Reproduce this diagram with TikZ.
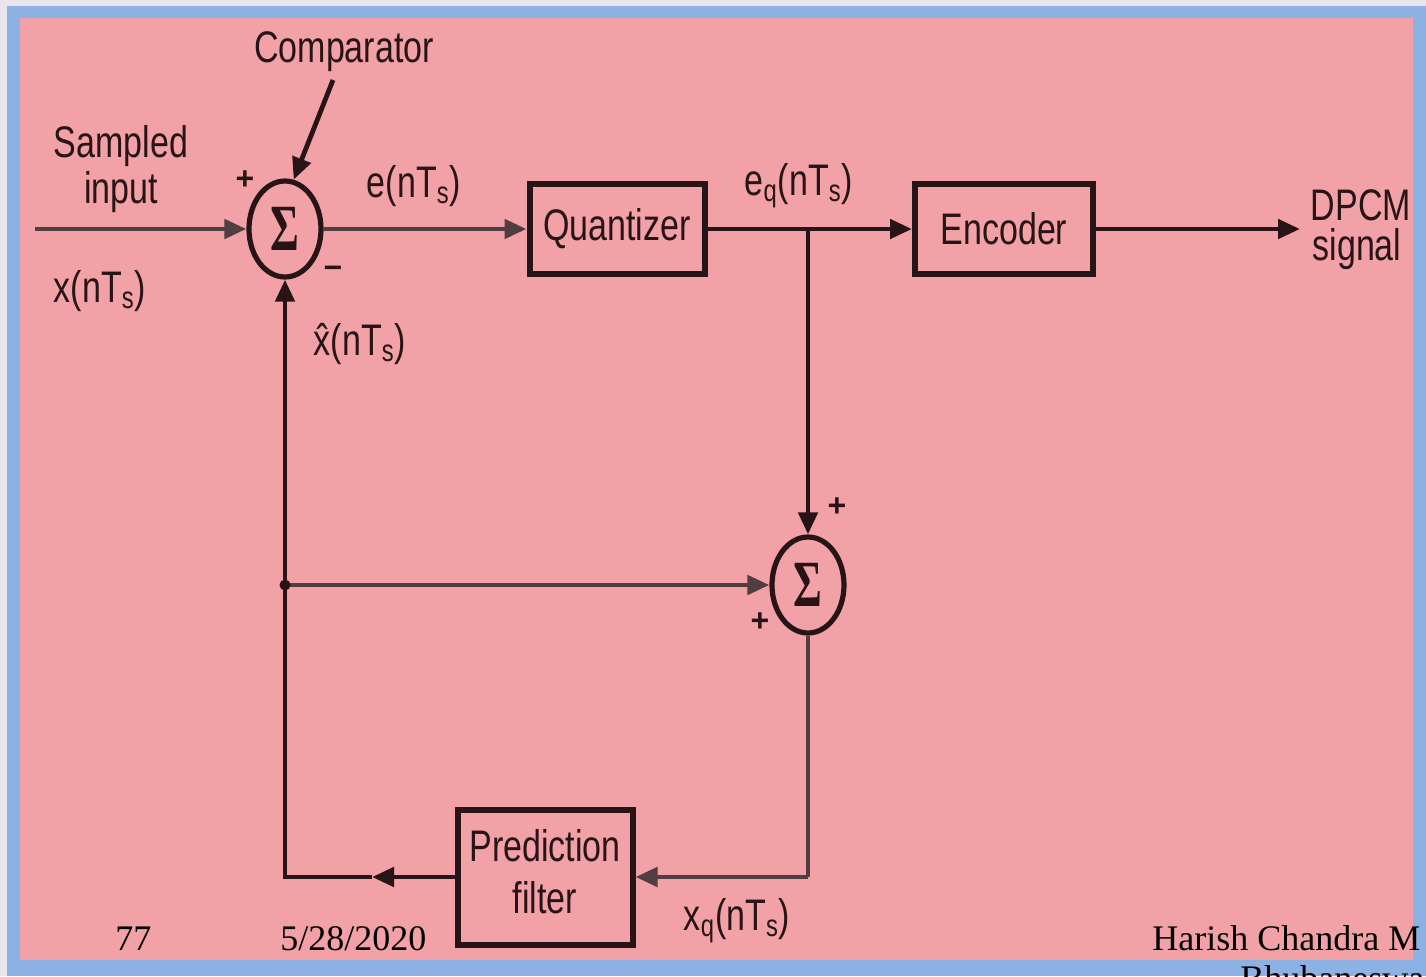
\documentclass[tikz,border=0pt]{standalone}
\usepackage{fontspec}
\setmainfont{Liberation Sans}
\newfontfamily\footfont{Liberation Serif}
\usetikzlibrary{shapes.geometric,arrows.meta}
\definecolor{bggray}{RGB}{232,230,235}
\definecolor{bordblue}{RGB}{140,178,228}
\definecolor{slidepink}{RGB}{242,161,167}
\definecolor{ink}{RGB}{40,20,22}
\definecolor{inkgray}{RGB}{80,62,65}
\newcommand{\vstretch}[2][1.3]{\scalebox{1}[#1]{#2}}
\newcommand{\sumsign}{\vstretch[1.5]{\footfont\bfseries\fontsize{22}{22}\selectfont Σ}}
\begin{document}
\begin{tikzpicture}[x=0.5pt,y=-0.5pt,
  conn/.style={draw=ink,line width=2.4pt},
  arr/.style={conn,-{Triangle[length=11pt,width=9.5pt]}},
  blockbox/.style={draw=ink,line width=3pt,minimum width=87.5pt,minimum height=45pt,inner sep=0pt,font=\fontsize{17}{20}\selectfont,text=ink},
  sumnode/.style={ellipse,draw=ink,line width=2.6pt,minimum width=36pt,minimum height=48pt,inner sep=0pt,text=ink},
  lbl/.style={font=\fontsize{17}{20}\selectfont,text=ink,inner sep=0pt,anchor=base},
  sgn/.style={font=\fontsize{16}{18}\selectfont\bfseries,text=ink,inner sep=0pt},
  foot/.style={font=\footfont\fontsize{18}{21}\selectfont,text=black,inner sep=0pt,anchor=base west},
]
\path[clip] (0,0) rectangle (1426,976);
\fill[bggray] (0,0) rectangle (1426,976);
\fill[bordblue] (7,6) rectangle (1426,976);
\fill[slidepink] (20,18) rectangle (1413,960);

% blocks
\node[sumnode] (s1) at (285,229) {\sumsign};
\node[blockbox] (q) at (617,229) {\vstretch{Quantizer}};
\node[blockbox,minimum width=89pt] (enc) at (1004,229) {\vstretch{Encoder}};
\node[sumnode] (s2) at (808,585) {\sumsign};
\node[blockbox,minimum height=67.5pt] (pf) at (545,877) {\vstretch{\begin{tabular}{@{}c@{}}Prediction\\filter\end{tabular}}};

% coordinates
\coordinate (in) at (35,229);
\coordinate (jq) at (s2 |- q.east);
\coordinate (out) at (1300,229);
\coordinate (jl) at (s1 |- s2.west);
\coordinate (br) at (s2 |- pf.east);
\coordinate (mid) at (372,0 |- pf.west);
\coordinate (bl) at (s1 |- pf.west);
\coordinate (cs) at (333,80);

% connectors
\draw[arr,draw=inkgray] (in) -- (s1.west);
\draw[arr,draw=inkgray] (s1.east) -- (q.west);
\draw[arr] (q.east) -- (enc.west);
\draw[arr] (jq) -- (s2.north);
\draw[arr] (enc.east) -- (out);
\draw[arr,draw=inkgray] (jl) -- (s2.west);
\fill[ink] (jl) circle (5.5);
\draw[conn,draw=inkgray] (s2.south) -- (br);
\draw[arr,draw=inkgray] (br) -- (pf.east);
\draw[arr] (pf.west) -- (mid);
\draw[arr] (mid) -- (bl) -- (s1.south);
\draw[arr] (cs) -- (s1.80);

% labels
\node[lbl] (cmp) at (344,62) {\vstretch{Comparator}};
\node[lbl] (samp1) at (121,157) {\vstretch{Sampled}};
\node[lbl] (samp2) at (121,203) {\vstretch{input}};
\node[lbl] (xin) at (100,302) {\vstretch{x(nT\textsubscript{s})}};
\node[lbl] (xhat) at (360,355) {\vstretch{\^{x}(nT\textsubscript{s})}};
\node[lbl] (err) at (414,197) {\vstretch{e(nT\textsubscript{s})}};
\node[lbl] (eq) at (799,195) {\vstretch{e\textsubscript{q}(nT\textsubscript{s})}};
\node[lbl] (xq) at (737,930) {\vstretch{x\textsubscript{q}(nT\textsubscript{s})}};
\node[lbl] (dpcm1) at (1361,220) {\vstretch{DPCM}};
\node[lbl] (dpcm2) at (1357,260) {\vstretch{signal}};
\node[sgn] (p1) at (245,180) {+};
\node[sgn] (m1) at (333,272) {−};
\node[sgn] (p2) at (837,507) {+};
\node[sgn] (p3) at (760,622) {+};

% footer
\node[foot] (f1) at (115,950) {77};
\node[foot] (f2) at (280,950) {5/28/2020};
\node[foot] (f3) at (1152,950) {Harish Chandra M};
\node[foot] (f4) at (1240,990) {Bhubaneswa};
\end{tikzpicture}
\end{document}
